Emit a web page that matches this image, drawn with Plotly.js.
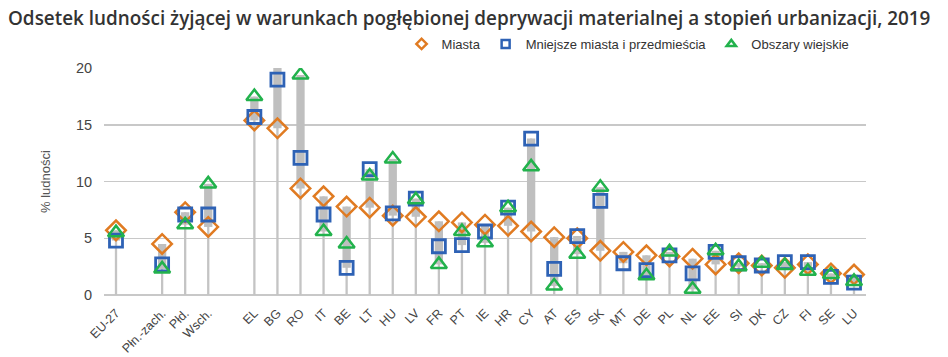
<!DOCTYPE html>
<html>
<head>
<meta charset="utf-8">
<script src="https://cdn.plot.ly/plotly-3.0.1.min.js"></script>
<style>html,body{margin:0;padding:0;background:#fff;}#chart{width:948px;height:357px;}</style>
</head>
<body>
<div id="chart"></div>
<script>
// Categories (null = empty gap slot)
const categories = ['EU-27', null, 'Płn.-zach.', 'Płd.', 'Wsch.', null,
  'EL','BG','RO','IT','BE','LT','HU','LV','FR','PT','IE','HR','CY','AT','ES',
  'SK','MT','DE','PL','NL','EE','SI','DK','CZ','FI','SE','LU'];

// Miasta (cities)
const miasta = [5.7, null, 4.5, 7.3, 6.0, null,
  15.4, 14.7, 9.4, 8.7, 7.8, 7.7, 7.0, 6.9, 6.5, 6.4, 6.2, 6.1, 5.6, 5.1, 5.0,
  3.9, 3.8, 3.5, 3.4, 3.2, 2.7, 2.8, 2.6, 2.4, 2.7, 1.9, 1.8];

// Mniejsze miasta i przedmieścia (towns and suburbs)
const mniejsze = [4.8, null, 2.7, 7.1, 7.1, null,
  15.7, 19.0, 12.1, 7.1, 2.4, 11.1, 7.2, 8.5, 4.3, 4.4, 5.6, 7.7, 13.8, 2.3, 5.2,
  8.3, 2.8, 2.2, 3.5, 1.9, 3.8, 2.8, 2.6, 2.9, 2.9, 1.6, 1.1];

// Obszary wiejskie (rural areas)
const wiejskie = [5.5, null, 2.3, 6.2, 9.8, null,
  17.5, 24.0, 19.4, 5.6, 4.5, 10.5, 12.0, 8.4, 2.7, 5.6, 4.6, 7.7, 11.3, 0.8, 3.6,
  9.5, null, 1.7, 3.8, 0.5, 3.9, 2.5, 2.8, 2.6, 2.1, 1.8, 1.2];

const seriesNames = ['Miasta', 'Mniejsze miasta i przedmieścia', 'Obszary wiejskie'];
const yTicks = [0, 5, 10, 15, 20];

const idx = categories.map((c, i) => i);
const vals = i => [miasta[i], mniejsze[i], wiejskie[i]].filter(v => v !== null);
const hi = idx.map(i => categories[i] === null ? null : Math.max(...vals(i)));
const lo = idx.map(i => categories[i] === null ? null : Math.min(...vals(i)));
const span = idx.map(i => hi[i] === null ? null : hi[i] - lo[i]);
const tickIdx = idx.filter(i => categories[i] !== null);
const tickTxt = tickIdx.map(i => categories[i]);

const FONT = 'Liberation Sans, Arial, sans-serif';
const styles = [
  {symbol: 'diamond-open', size: 15, color: '#E07B22', w: 2.5},
  {symbol: 'square-open', size: 13, color: '#2E62B5', w: 2.8},
  {symbol: 'triangle-up-open', size: 14, color: '#22B24C', w: 2.5}
];
const data = [miasta, mniejsze, wiejskie];

const traces = [
  {type: 'bar', x: idx, y: hi, width: 0.1, marker: {color: '#c4c4c4'},
   showlegend: false, hoverinfo: 'skip'},
  {type: 'bar', x: idx, y: span, base: lo, width: 0.36, marker: {color: '#bfbfbf'},
   showlegend: false, hoverinfo: 'skip'}
];
data.forEach((arr, k) => {
  const s = styles[k];
  traces.push({type: 'scatter', mode: 'markers', name: seriesNames[k], x: idx, y: arr,
    showlegend: false,
    marker: {symbol: s.symbol, size: s.size, color: s.color, line: {width: s.w, color: s.color}}});
});
// legend entries (small symbols, like the reference)
data.forEach((arr, k) => {
  const s = styles[k];
  traces.push({type: 'scatter', mode: 'markers', name: seriesNames[k], x: [null], y: [null],
    showlegend: true,
    marker: {symbol: s.symbol, size: 8, color: s.color, line: {width: 2.5, color: s.color}}});
});

const layout = {
  width: 948, height: 357,
  margin: {l: 104, r: 82, t: 68, b: 62},
  paper_bgcolor: '#fff', plot_bgcolor: '#fff',
  barmode: 'overlay',
  font: {family: FONT, color: '#444'},
  title: {text: 'Odsetek ludności żyjącej w warunkach pogłębionej deprywacji materialnej a stopień urbanizacji, 2019',
    x: 8/948, xref: 'container', xanchor: 'left', y: 1 - 18/357, yref: 'container', yanchor: 'middle',
    font: {family: 'Open Sans, sans-serif', size: 18.9, color: '#333', weight: 600}},
  showlegend: true,
  legend: {orientation: 'h', x: 0.985, xanchor: 'right', y: 1.106, yanchor: 'middle',
    font: {family: FONT, size: 13, color: '#333'}, itemwidth: 30, tracegroupgap: 0,
    bgcolor: 'rgba(0,0,0,0)'},
  xaxis: {range: [-0.52, 32.52], tickvals: tickIdx, ticktext: tickTxt, tickangle: -45,
    showgrid: false, zeroline: false, showline: false, ticks: 'outside', ticklen: 5,
    tickcolor: 'rgba(0,0,0,0)',
    tickfont: {family: FONT, size: 12.5, color: '#444'}, fixedrange: true},
  yaxis: {range: [0, 20.02], tickvals: yTicks, showgrid: true, gridcolor: '#c8c8c8', gridwidth: 1.5,
    zeroline: true, zerolinecolor: '#c8c8c8', zerolinewidth: 1.5, showline: false,
    ticks: 'outside', ticklen: 8, tickcolor: 'rgba(0,0,0,0)',
    tickfont: {family: FONT, size: 14.5, color: '#444'},
    title: {text: '% ludności', font: {family: FONT, size: 13, color: '#555'}, standoff: 22},
    fixedrange: true}
};

Plotly.newPlot('chart', traces, layout, {displayModeBar: false, staticPlot: true});
</script>
</body>
</html>
